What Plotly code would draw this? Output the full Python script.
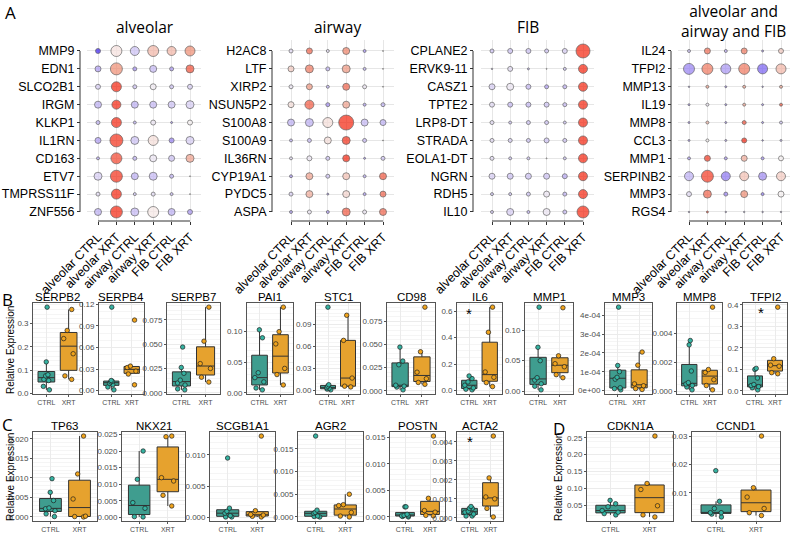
import numpy as np
import plotly.graph_objects as go

W, H = 790, 534
FONT = "Liberation Sans, Arial, sans-serif"

# ---------------- Panel A data ----------------
groups = ["alveolar CTRL", "alveolar XRT", "airway CTRL", "airway XRT", "FIB CTRL", "FIB XRT"]

alv_genes = ["MMP9", "EDN1", "SLCO2B1", "IRGM", "KLKP1", "IL1RN", "CD163", "ETV7", "TMPRSS11F", "ZNF556"]
alv_color = [[-1.0, 0.08, -0.2, 0.3, 0.3, 0.5], [-0.4, 0.5, -0.5, -0.25, -0.45, 0.8],
             [-0.15, 1.0, -0.2, -0.03, -0.2, -0.15], [-0.3, 1.0, -0.3, -0.25, -0.2, -0.15],
             [-0.3, 1.0, -0.3, -0.05, -0.5, 0.0], [-0.4, 0.95, -0.2, 0.1, -0.55, -0.15],
             [-0.35, 0.85, -0.3, -0.05, -0.2, 0.4], [-0.15, 0.95, -0.3, -0.25, -0.3, 0.0],
             [-0.1, 1.0, -0.2, -0.1, -0.25, 0.0], [-0.3, 1.0, -0.25, 0.05, -0.3, -0.45]]
alv_size = [[5, 11, 9, 11, 9, 10], [6, 12, 4, 7, 4, 8], [5, 10, 4, 6, 4, 5], [7, 9, 7, 7, 7, 8],
            [4, 10, 3, 5, 2, 5], [6, 13, 8, 10, 5, 8], [3, 11, 4, 7, 6, 8], [8, 12, 7, 8, 4, 1],
            [4, 10, 3, 4, 3, 1], [7, 12, 8, 11, 7, 5]]

air_genes = ["H2AC8", "LTF", "XIRP2", "NSUN5P2", "S100A8", "S100A9", "IL36RN", "CYP19A1", "PYDC5", "ASPA"]
air_color = [[-0.1, 0.7, -0.1, 0.55, -0.5, 0.0], [0.2, 0.6, -0.3, 0.45, -0.3, 0.0],
             [-0.05, 0.45, -0.3, 0.7, -0.05, 0.0], [0.1, 0.75, -0.5, 0.4, -0.4, -0.3],
             [-0.3, -0.3, 0.1, 1.0, -0.25, -0.3], [-0.3, -0.25, 0.1, 0.95, -0.25, 0.0],
             [-0.1, -0.05, -0.2, 1.0, -0.5, -0.2], [-0.45, 0.4, -0.2, 0.25, -0.35, 0.75],
             [-0.15, 0.35, -0.5, 0.15, -0.45, 0.7], [-0.45, -0.05, -0.45, 0.75, -0.05, 0.7]]
air_size = [[4, 6, 3, 7, 3, 1], [6, 8, 4, 8, 3, 1], [4, 6, 3, 7, 4, 1], [6, 9, 4, 7, 3, 4],
            [7, 8, 10, 15, 7, 6], [3, 4, 7, 8, 4, 1], [3, 5, 4, 7, 2, 4], [3, 7, 4, 7, 3, 7],
            [4, 7, 2, 7, 3, 6], [3, 4, 3, 8, 4, 7]]

fib_genes = ["CPLANE2", "ERVK9-11", "CASZ1", "TPTE2", "LRP8-DT", "STRADA", "EOLA1-DT", "NGRN", "RDH5", "IL10"]
fib_color = [[-0.2, -0.2, -0.2, -0.2, -0.15, 1.0], [-0.3, -0.1, -0.3, 0.0, -0.2, 1.0],
             [-0.15, -0.05, -0.25, -0.4, -0.3, 1.0], [-0.1, -0.25, -0.25, -0.2, -0.25, 1.0],
             [-0.1, -0.2, -0.2, -0.2, -0.2, 1.0], [-0.1, -0.15, -0.2, -0.2, -0.2, 1.0],
             [-0.1, -0.2, -0.2, 0.0, -0.2, 1.0], [-0.15, -0.2, -0.2, -0.2, -0.35, 1.0],
             [-0.2, -0.2, -0.2, -0.05, -0.3, 1.0], [-0.2, -0.15, -0.3, -0.05, -0.25, 1.0]]
fib_size = [[4, 5, 5, 4, 5, 14], [1.5, 5, 2, 1, 3, 9], [6, 7, 5, 4, 4, 9], [5, 5, 5, 5, 4, 9],
            [4, 3, 4, 4, 3, 9], [4, 4, 4, 5, 4, 9], [4, 3, 3, 1, 3, 9], [6, 6, 6, 6, 5, 9],
            [3, 3, 4, 6, 4, 9], [3, 7, 3, 7, 4, 12]]

all_genes = ["IL24", "TFPI2", "MMP13", "IL19", "MMP8", "CCL3", "MMP1", "SERPINB2", "MMP3", "RGS4"]
all_color = [[-0.25, 0.65, -0.35, 0.6, -0.5, 0.2], [-0.55, 0.6, -0.45, 0.6, -0.7, 0.3],
             [-0.5, 0.4, -0.5, 0.4, -0.5, 0.4], [-0.5, -0.05, -0.5, 0.4, -0.5, 0.8],
             [-0.5, 0.3, -0.5, 0.8, -0.5, -0.2], [-0.5, 0.0, -0.4, 1.0, -0.5, -0.3],
             [-0.4, 0.9, -0.45, 0.35, -0.5, 0.0], [-0.3, 0.9, -0.6, 0.25, -0.5, 0.2],
             [-0.1, 0.7, -0.55, 0.5, -0.6, 0.0], [-0.4, 0.9, -0.4, -0.3, -0.4, -0.3]]
all_size = [[3, 6, 3, 6, 2, 5], [11, 11, 10, 11, 10, 10], [1.5, 3, 2, 3, 1.5, 3], [2, 3, 2, 3, 2, 3],
            [2, 3, 2, 4, 2, 3], [2, 3, 2, 5, 1.5, 2], [3, 6, 3, 6, 3, 5], [9, 12, 9, 9, 8, 9],
            [5, 8, 4, 7, 3, 6], [1.5, 2, 1.5, 1.5, 1.5, 1.5]]

dot_titles = ["alveolar", "airway", "FIB", "alveolar and<br>airway and FIB"]
dot_genes = [alv_genes, air_genes, fib_genes, all_genes]
dot_colors = [alv_color, air_color, fib_color, all_color]
dot_sizes = [alv_size, air_size, fib_size, all_size]

# ---------------- Panels B, C, D data ----------------
box_conditions = ["CTRL", "XRT"]
ctrl_vals = {
    "SERPB2": [0.37, 0.135, 0.08, 0.075, 0.06, 0.055, 0.03, 0.015],
    "SERPB4": [0.116, 0.014, 0.013, 0.012, 0.01, 0.008, 0.005, 0.001],
    "SERPB7": [0.047, 0.026, 0.02, 0.013, 0.01, 0.008, 0.004, 0.003],
    "PAI1": [0.005, 0.008, 0.018, 0.025, 0.033, 0.09, 0.103],
    "STC1": [0.001, 0.002, 0.003, 0.004, 0.006, 0.008, 0.113],
    "CD98": [0.001, 0.004, 0.005, 0.006, 0.028, 0.032, 0.047],
    "IL6": [0.005, 0.01, 0.02, 0.04, 0.065, 0.09, 0.11],
    "MMP1": [0.002, 0.008, 0.012, 0.018, 0.022, 0.05, 0.072, 0.138],
    "MMP3": [0.03e-4, 0.1e-4, 0.14e-4, 0.6e-4, 0.7e-4, 1.0e-4, 1.33e-4, 4.45e-4],
    "MMP8": [0.0001, 0.0003, 0.0004, 0.0005, 0.0006, 0.0014, 0.0032, 0.0035],
    "TFPI2": [0.005, 0.015, 0.02, 0.025, 0.03, 0.06, 0.1, 0.105],
    "TP63": [0.0001, 0.0008, 0.0016, 0.0021, 0.0023, 0.0042, 0.0063, 0.0098],
    "NKX21": [0.0002, 0.0003, 0.0028, 0.0045, 0.0115, 0.020],
    "SCGB1A1": [0.0001, 0.0001, 0.0003, 0.0007, 0.001, 0.0015, 0.0095],
    "AGR2": [0.0, 0.0001, 0.0002, 0.0008, 0.001, 0.0015, 0.0178],
    "POSTN": [0.0, 0.0001, 0.0002, 0.0002, 0.0003, 0.0005, 0.0019, 0.0019],
    "ACTA2": [0.0001, 0.0001, 0.0002, 0.0003, 0.00035, 0.0005, 0.0005, 0.0006],
    "CDKN1A": [0.022, 0.026, 0.03, 0.035, 0.046, 0.055, 0.065],
    "CCND1": [0.0015, 0.0025, 0.003, 0.003, 0.0045, 0.007, 0.0178],
}
xrt_vals = {
    "SERPB2": [0.06, 0.075, 0.17, 0.235, 0.27, 0.36],
    "SERPB4": [0.008, 0.023, 0.027, 0.032, 0.034, 0.098],
    "SERPB7": [0.011, 0.016, 0.025, 0.030, 0.053, 0.088],
    "PAI1": [0.013, 0.03, 0.04, 0.08, 0.10, 0.14],
    "STC1": [0.005, 0.006, 0.017, 0.068, 0.102],
    "CD98": [0.007, 0.009, 0.013, 0.02, 0.042, 0.09],
    "IL6": [0.03, 0.06, 0.1, 0.14, 0.44, 0.63],
    "MMP1": [0.022, 0.027, 0.04, 0.045, 0.058, 0.137],
    "MMP3": [0.05e-4, 0.1e-4, 0.25e-4, 0.35e-4, 1.35e-4, 2.05e-4],
    "MMP8": [0.0001, 0.0004, 0.0008, 0.0013, 0.0015, 0.0058],
    "TFPI2": [0.08, 0.085, 0.115, 0.12, 0.15, 0.39],
    "TP63": [0.0, 0.0001, 0.0002, 0.0046, 0.011, 0.0207],
    "NKX21": [0.0035, 0.0067, 0.011, 0.012, 0.0243, 0.0245],
    "SCGB1A1": [0.0001, 0.0002, 0.0004, 0.0005, 0.0011, 0.013],
    "AGR2": [0.0, 0.0002, 0.001, 0.0025, 0.0027, 0.005],
    "POSTN": [0.0002, 0.0003, 0.0009, 0.0012, 0.0035, 0.0152],
    "ACTA2": [0.00005, 0.0005, 0.001, 0.0011, 0.0021, 0.0043],
    "CDKN1A": [0.016, 0.022, 0.049, 0.097, 0.115, 0.255],
    "CCND1": [0.002, 0.003, 0.0045, 0.0085, 0.0118, 0.030],
}
ytick_labels = {
    "SERPB2": ["0.0", "0.1", "0.2", "0.3"],
    "SERPB4": ["0.00", "0.03", "0.06", "0.09", "0.12"],
    "SERPB7": ["0.000", "0.025", "0.050", "0.075"],
    "PAI1": ["0.00", "0.05", "0.10"],
    "STC1": ["0.00", "0.03", "0.06", "0.09"],
    "CD98": ["0.000", "0.025", "0.050", "0.075"],
    "IL6": ["0.0", "0.2", "0.4", "0.6"],
    "MMP1": ["0.00", "0.05", "0.10"],
    "MMP3": ["0e+00", "1e-04", "2e-04", "3e-04", "4e-04"],
    "MMP8": ["0.000", "0.002", "0.004"],
    "TFPI2": ["0.0", "0.1", "0.2", "0.3", "0.4"],
    "TP63": ["0.000", "0.005", "0.010", "0.015", "0.020"],
    "NKX21": ["0.000", "0.005", "0.010", "0.015", "0.020", "0.025"],
    "SCGB1A1": ["0.000", "0.005", "0.010"],
    "AGR2": ["0.000", "0.005", "0.010", "0.015"],
    "POSTN": ["0.000", "0.005", "0.010", "0.015"],
    "ACTA2": ["0.000", "0.001", "0.002", "0.003", "0.004"],
    "CDKN1A": ["0.05", "0.10", "0.15", "0.20", "0.25"],
    "CCND1": ["0.01", "0.02", "0.03"],
}
# significance stars: gene -> (x position in category units, y value)
stars = {"IL6": (0.0, 0.61), "TFPI2": (0.3, 0.385), "ACTA2": (0.0, 0.0042)}

# ---------------- layout geometry (pixels) ----------------
dot_geom = [  # first col x, last col x, y-axis line x, title x, title y
    (98, 190, 80, 145, 27), (291, 383, 272, 337, 27),
    (492, 583, 473, 528, 27), (689, 781, 671, 733, 21)]
ROW_TOP, ROW_BOT, XLINE = 51, 212, 221
EXP = 0.6  # discrete axis expansion (category units)

box_geom = {  # left, right
    "SERPB2": (33, 82), "SERPB4": (99, 144), "SERPB7": (167, 220), "PAI1": (247, 293),
    "STC1": (316, 360), "CD98": (387, 435), "IL6": (457, 502), "MMP1": (525, 573),
    "MMP3": (605, 652), "MMP8": (677, 722), "TFPI2": (743, 787),
    "TP63": (33, 97), "NKX21": (122, 185), "SCGB1A1": (210, 275), "AGR2": (298, 363),
    "POSTN": (390, 445), "ACTA2": (457, 503), "CDKN1A": (587, 673), "CCND1": (692, 780)}
row_B = ["SERPB2", "SERPB4", "SERPB7", "PAI1", "STC1", "CD98", "IL6", "MMP1", "MMP3", "MMP8", "TFPI2"]
B_TOP, B_BOT = 303, 394
CD_TOP, CD_BOT = 432, 521


def fx(p):
    return min(max(p / W, 0.0), 1.0)


def fy(p):
    return min(max(1 - p / H, 0.0), 1.0)


colorscale = [[0.0, "#3a1ff2"], [0.25, "#9f8af2"], [0.4, "#cbc0f4"], [0.5, "#f7f1f2"],
              [0.75, "#ee8c72"], [1.0, "#f4240e"]]
CTRL_FILL, XRT_FILL = "#3f9d8f", "#e6a22e"
CTRL_PT, XRT_PT = "#35b3a2", "#f1a41c"

fig = go.Figure()
layout = {}
annotations = []
shapes = []
k = 0


def names(k):
    return ("xaxis" if k == 1 else f"xaxis{k}", "yaxis" if k == 1 else f"yaxis{k}",
            "x" if k == 1 else f"x{k}", "y" if k == 1 else f"y{k}")


def ann(text, x, y, size, family=FONT, **kw):
    d = dict(text=text, x=x, y=y, xref="paper", yref="paper", showarrow=False,
             xanchor="center", yanchor="middle",
             font=dict(size=size, color="black", family=family))
    d.update(kw)
    return d


# ---------------- Panel A ----------------
for p in range(4):
    k += 1
    xa, ya, xr, yr = names(k)
    genes = dot_genes[p]
    n = len(genes)
    m = len(groups)
    xs, ys, cs, ss = [], [], [], []
    for i, g in enumerate(genes):
        for j, grp in enumerate(groups):
            xs.append(grp)
            ys.append(g)
            cs.append(dot_colors[p][i][j])
            ss.append(dot_sizes[p][i][j])
    fig.add_trace(go.Scatter(
        x=xs, y=ys, mode="markers", xaxis=xr, yaxis=yr, cliponaxis=False, showlegend=False,
        hoverinfo="skip",
        marker=dict(size=ss, color=cs, colorscale=colorscale, cmin=-1, cmax=1, showscale=False,
                    line=dict(color="#262626", width=0.7))))
    c0, c1, yl, tx, ty = dot_geom[p]
    sx = (c1 - c0) / (m - 1)
    sy = (ROW_BOT - ROW_TOP) / (n - 1)
    d0, d1 = c0 - EXP * sx, min(c1 + EXP * sx, W)
    e0, e1 = ROW_TOP - EXP * sy, ROW_BOT + EXP * sy
    layout[xa] = dict(domain=[fx(d0), fx(d1)], type="category",
                      categoryarray=groups, range=[(d0 - c0) / sx, (d1 - c0) / sx], anchor="free",
                      position=fy(XLINE), showline=False, ticks="outside", ticklen=3,
                      tickcolor="#333333", tickangle=-45, automargin=False,
                      tickfont=dict(size=12.5, color="black", family=FONT),
                      showgrid=True, gridcolor="#e6e6e6", gridwidth=1, zeroline=False)
    layout[ya] = dict(domain=[fy(e1), fy(e0)], type="category",
                      categoryarray=genes, range=[(e1 - ROW_TOP) / sy, (e0 - ROW_TOP) / sy],
                      anchor="free", position=fx(yl), showline=False, ticks="outside", ticklen=3,
                      tickcolor="#333333", automargin=False,
                      tickfont=dict(size=12.5, color="black", family=FONT),
                      showgrid=True, gridcolor="#e6e6e6", gridwidth=1, zeroline=False)
    # bracket-style axis lines spanning first..last category
    shapes.append(dict(type="line", xref=xr, yref="paper", x0=0, x1=m - 1,
                       y0=fy(XLINE), y1=fy(XLINE), line=dict(color="#333333", width=1)))
    shapes.append(dict(type="line", xref="paper", yref=yr, x0=fx(yl), x1=fx(yl),
                       y0=0, y1=n - 1, line=dict(color="#333333", width=1)))
    annotations.append(ann(dot_titles[p], fx(tx), fy(ty), 15.5, "Open Sans, sans-serif"))


# ---------------- Panels B, C, D ----------------
def box_stats(v):
    v = np.sort(np.asarray(v, dtype=float))
    q1, med, q3 = np.percentile(v, [25, 50, 75])
    iqr = q3 - q1
    lo = v[v >= q1 - 1.5 * iqr].min()
    hi = v[v <= q3 + 1.5 * iqr].max()
    return q1, med, q3, lo, hi


for g in box_geom:
    k += 1
    xa, ya, xr, yr = names(k)
    left, right = box_geom[g]
    top, bot = (B_TOP, B_BOT) if g in row_B else (CD_TOP, CD_BOT)
    for cond, vals, fill, ptc in (("CTRL", ctrl_vals[g], CTRL_FILL, CTRL_PT),
                                  ("XRT", xrt_vals[g], XRT_FILL, XRT_PT)):
        q1, med, q3, lo, hi = box_stats(vals)
        fig.add_trace(go.Box(x=[cond], q1=[q1], median=[med], q3=[q3], lowerfence=[lo],
                             upperfence=[hi], xaxis=xr, yaxis=yr, fillcolor=fill,
                             line=dict(color="#333333", width=1), width=0.75, whiskerwidth=0,
                             boxpoints=False, showlegend=False, hoverinfo="skip"))
        fig.add_trace(go.Box(x=[cond] * len(vals), y=vals, xaxis=xr, yaxis=yr,
                             fillcolor="rgba(0,0,0,0)", line=dict(color="rgba(0,0,0,0)", width=0),
                             width=0.75, boxpoints="all", jitter=0.7, pointpos=0,
                             marker=dict(color=ptc, size=4.5, line=dict(color="#1f1f1f", width=0.7)),
                             showlegend=False, hoverinfo="skip"))
    allv = list(ctrl_vals[g]) + list(xrt_vals[g])
    lo, hi = min(allv), max(allv)
    pad = 0.05 * (hi - lo)
    tv = [float(t) for t in ytick_labels[g]]
    layout[xa] = dict(domain=[fx(left), fx(right)], anchor=yr, type="category",
                      categoryarray=box_conditions, range=[-0.6, 1.6], showgrid=True,
                      gridcolor="#ebebeb", gridwidth=0.8, showline=True, mirror=True,
                      linecolor="#555555", linewidth=0.8, ticks="outside", ticklen=2,
                      tickcolor="#555555", automargin=False,
                      tickfont=dict(size=7, color="#4d4d4d", family=FONT), zeroline=False)
    layout[ya] = dict(domain=[fy(bot), fy(top)], anchor=xr, range=[lo - pad, hi + pad],
                      tickvals=tv, ticktext=ytick_labels[g], showgrid=True, gridcolor="#ebebeb",
                      gridwidth=0.8, minor=dict(showgrid=True, gridcolor="#f5f5f5", gridwidth=0.6),
                      showline=True, mirror=True, linecolor="#555555", linewidth=0.8,
                      ticks="outside", ticklen=2, tickcolor="#555555", automargin=False,
                      tickfont=dict(size=8, color="#4d4d4d", family=FONT), zeroline=False)
    annotations.append(ann(g, fx((left + right) / 2), fy(top - 6), 11.5))
    if g in stars:
        sxv, syv = stars[g]
        annotations.append(dict(text="*", x=sxv, y=syv, xref=xr, yref=yr, showarrow=False,
                                xanchor="center", yanchor="middle", yshift=-4,
                                font=dict(size=15, color="black", family=FONT)))

# axis titles and panel letters
for (px_, py_) in ((10, 350), (10, 477), (558, 477)):
    annotations.append(ann("Relative Expression", fx(px_), fy(py_), 10, textangle=-90))
for letter, (px_, py_) in (("A", (10, 12)), ("B", (7, 299)), ("C", (7, 425)), ("D", (559, 428))):
    annotations.append(ann(letter, fx(px_), fy(py_), 17, "Open Sans, sans-serif"))

fig.update_layout(**layout)
fig.update_layout(template="none", width=W, height=H, margin=dict(l=0, r=0, t=0, b=0, pad=0),
                  autosize=False, paper_bgcolor="white", plot_bgcolor="white", boxmode="overlay",
                  annotations=annotations, shapes=shapes, font=dict(family=FONT), showlegend=False)
fig.write_html("out.html")
